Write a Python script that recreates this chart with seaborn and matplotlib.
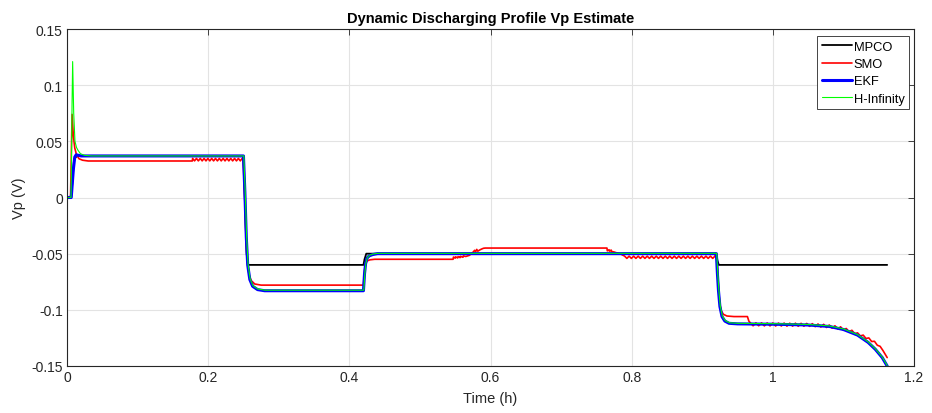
import matplotlib
matplotlib.use("Agg")
import matplotlib.pyplot as plt
import numpy as np
import pandas as pd
import seaborn as sns

# ---------------- data (time in hours, Vp in volts) ----------------
mpco_t = [0, 0.006, 0.010, 0.014, 0.250, 0.2545, 0.2565, 0.420, 0.4215, 0.424,
          0.920, 0.9215, 0.9235, 1.162]
mpco_v = [0, 0, 0.034, 0.037, 0.037, -0.050, -0.060, -0.060, -0.055, -0.050,
          -0.050, -0.056, -0.060, -0.060]

ekf_t = [0, 0.006, 0.009, 0.011, 0.013, 0.020, 0.250, 0.252, 0.254, 0.256, 0.259,
         0.263, 0.270, 0.280, 0.420, 0.4215, 0.423, 0.425, 0.428, 0.433, 0.440,
         0.920, 0.9215, 0.923, 0.925, 0.928, 0.932, 0.938, 0.950, 1.000, 1.050,
         1.080, 1.100, 1.120, 1.135, 1.145, 1.155, 1.162]
ekf_v = [0, 0, 0.025, 0.036, 0.038, 0.037, 0.037, 0.005, -0.035, -0.060, -0.073,
         -0.079, -0.082, -0.083, -0.083, -0.068, -0.059, -0.054, -0.052, -0.0508, -0.050,
         -0.050, -0.068, -0.083, -0.097, -0.106, -0.110, -0.112, -0.1125, -0.1128, -0.1135,
         -0.1148, -0.1175, -0.1225, -0.1290, -0.1350, -0.1425, -0.1500]

hinf_t = [0, 0.0057, 0.0072, 0.0080, 0.0095, 0.0113, 0.0135, 0.0156, 0.019, 0.025,
          0.035, 0.2505, 0.2525, 0.2545, 0.2565, 0.2595, 0.2635, 0.2705, 0.2805,
          0.4205, 0.4220, 0.4235, 0.4255, 0.4285, 0.4335, 0.4405,
          0.9205, 0.9220, 0.9235, 0.9255, 0.9285, 0.9325, 0.9385, 0.9505, 1.000,
          1.050, 1.080, 1.100, 1.120, 1.135, 1.145, 1.155, 1.162]
hinf_v = [0, 0, 0.085, 0.121, 0.075, 0.050, 0.0445, 0.042, 0.039, 0.0375,
          0.037, 0.037, 0.005, -0.035, -0.0595, -0.0725, -0.0785, -0.0815, -0.0825,
          -0.0825, -0.0675, -0.0585, -0.0535, -0.0515, -0.0503, -0.0497,
          -0.0497, -0.0675, -0.0825, -0.0965, -0.1055, -0.1095, -0.1115, -0.1120, -0.1123,
          -0.1130, -0.1143, -0.1170, -0.1220, -0.1285, -0.1345, -0.1420, -0.1495]

# SMO: start-up transient and first plateau
smo_a_t = [0, 0.005, 0.0072, 0.009, 0.011, 0.0135, 0.017, 0.022, 0.030, 0.1775]
smo_a_v = [0, 0, 0.074, 0.055, 0.044, 0.038, 0.0345, 0.0332, 0.0325, 0.0325]
# SMO: chattering before the first load step
smo_b_t = [0.1780, 0.1807, 0.1834, 0.1861, 0.1888, 0.1915, 0.1942, 0.1969, 0.1996,
           0.2023, 0.2050, 0.2077, 0.2104, 0.2131, 0.2158, 0.2185, 0.2212, 0.2239,
           0.2266, 0.2293, 0.2320, 0.2347, 0.2374, 0.2401, 0.2428, 0.2455, 0.2482]
smo_b_v = [0.0348, 0.0326, 0.0348, 0.0326, 0.0348, 0.0326, 0.0348, 0.0326, 0.0348,
           0.0326, 0.0348, 0.0326, 0.0348, 0.0326, 0.0348, 0.0326, 0.0348, 0.0326,
           0.0348, 0.0326, 0.0348, 0.0326, 0.0348, 0.0326, 0.0348, 0.0326, 0.0348]
# SMO: load steps at 0.25 h and 0.42 h, middle plateau
smo_c_t = [0.2495, 0.2515, 0.2535, 0.2555, 0.258, 0.261, 0.266, 0.275, 0.420,
           0.4215, 0.423, 0.425, 0.429, 0.436, 0.547,
           0.5475, 0.5500, 0.5505, 0.5535, 0.5540, 0.5570, 0.5575, 0.5610, 0.5615,
           0.5650, 0.5700, 0.5730, 0.5760, 0.5775, 0.5790, 0.5805, 0.5820, 0.5845,
           0.5870, 0.5900, 0.5925, 0.765,
           0.7655, 0.768, 0.7685, 0.771, 0.7715, 0.775, 0.780, 0.785]
smo_c_v = [0.0348, 0.005, -0.035, -0.058, -0.069, -0.074, -0.077, -0.078, -0.078,
           -0.065, -0.059, -0.0565, -0.0555, -0.055, -0.055,
           -0.0530, -0.0540, -0.0528, -0.0538, -0.0526, -0.0535, -0.0524, -0.0532, -0.0520,
           -0.0525, -0.0515, -0.0500, -0.0482, -0.0470, -0.0482, -0.0462, -0.0478, -0.0468,
           -0.0460, -0.0452, -0.0450, -0.0450,
           -0.0475, -0.0465, -0.0478, -0.0468, -0.0480, -0.0485, -0.0495, -0.0505]
# SMO: chattering before the 0.92 h step
smo_d_t = [0.7900, 0.7932, 0.7964, 0.7996, 0.8028, 0.8060, 0.8092, 0.8124, 0.8156,
           0.8188, 0.8220, 0.8252, 0.8284, 0.8316, 0.8348, 0.8380, 0.8412, 0.8444,
           0.8476, 0.8508, 0.8540, 0.8572, 0.8604, 0.8636, 0.8668, 0.8700, 0.8732,
           0.8764, 0.8796, 0.8828, 0.8860, 0.8892, 0.8924, 0.8956, 0.8988, 0.9020,
           0.9052, 0.9084, 0.9116, 0.9148, 0.9180]
smo_d_v = [-0.0522, -0.0542, -0.0522, -0.0542, -0.0522, -0.0542, -0.0522, -0.0542, -0.0522,
           -0.0542, -0.0522, -0.0542, -0.0522, -0.0542, -0.0522, -0.0542, -0.0522, -0.0542,
           -0.0522, -0.0542, -0.0522, -0.0542, -0.0522, -0.0542, -0.0522, -0.0542, -0.0522,
           -0.0542, -0.0522, -0.0542, -0.0522, -0.0542, -0.0522, -0.0542, -0.0522, -0.0542,
           -0.0522, -0.0542, -0.0522, -0.0542, -0.0522]
# SMO: 0.92 h step and short plateau
smo_e_t = [0.919, 0.9205, 0.922, 0.9235, 0.925, 0.927, 0.930, 0.935, 0.945, 0.964, 0.966]
smo_e_v = [-0.0495, -0.052, -0.068, -0.085, -0.095, -0.101, -0.104, -0.1055, -0.106, -0.106, -0.110]
# SMO: chattering through the end of discharge
smo_f_t = [0.968, 0.972, 0.976, 0.980, 0.984, 0.988, 0.992, 0.996, 1.000, 1.004,
           1.008, 1.012, 1.016, 1.020, 1.024, 1.028, 1.032, 1.036, 1.040, 1.044,
           1.048, 1.052, 1.056, 1.060, 1.064, 1.068, 1.072, 1.076, 1.080, 1.084,
           1.088, 1.092, 1.096, 1.100, 1.104, 1.108, 1.112, 1.116, 1.120, 1.124,
           1.128, 1.132, 1.136, 1.140, 1.144, 1.148, 1.152, 1.156, 1.160, 1.162]
smo_f_v = [-0.1115, -0.1142, -0.1116, -0.1142, -0.1116, -0.1143, -0.1117, -0.1143, -0.1117, -0.1144,
           -0.1118, -0.1144, -0.1118, -0.1145, -0.1119, -0.1145, -0.1119, -0.1146, -0.1120, -0.1146,
           -0.1121, -0.1147, -0.1123, -0.1150, -0.1126, -0.1153, -0.1129, -0.1157, -0.1135, -0.1163,
           -0.1142, -0.1170, -0.1151, -0.1182, -0.1166, -0.1195, -0.1182, -0.1212, -0.1205, -0.1232,
           -0.1225, -0.1255, -0.1250, -0.1282, -0.1280, -0.1315, -0.1325, -0.1362, -0.1405, -0.1425]

smo_t = smo_a_t + smo_b_t + smo_c_t + smo_d_t + smo_e_t + smo_f_t
smo_v = smo_a_v + smo_b_v + smo_c_v + smo_d_v + smo_e_v + smo_f_v

x_ticks = [0, 0.2, 0.4, 0.6, 0.8, 1.0, 1.2]
x_tick_labels = ["0", "0.2", "0.4", "0.6", "0.8", "1", "1.2"]
y_ticks = [-0.15, -0.10, -0.05, 0, 0.05, 0.10, 0.15]
y_tick_labels = ["-0.15", "-0.1", "-0.05", "0", "0.05", "0.1", "0.15"]

# ---------------- styling ----------------
sns.set_theme(style="white")
plt.rcParams["font.family"] = ["Liberation Sans", "DejaVu Sans"]
plt.rcParams["axes.unicode_minus"] = False

fig = plt.figure(figsize=(9.32, 4.14), dpi=100)
ax = fig.add_axes([67 / 932, 1 - 367 / 414, 847 / 932, 337 / 414])

series = [
    ("MPCO", mpco_t, mpco_v, "#000000", 1.3),
    ("SMO", smo_t, smo_v, "#ff0000", 1.2),
    ("EKF", ekf_t, ekf_v, "#0000ff", 2.2),
    ("H-Infinity", hinf_t, hinf_v, "#00ff00", 0.8),
]
for name, t, v, color, lw in series:
    df = pd.DataFrame({"Time (h)": t, "Vp (V)": v})
    sns.lineplot(data=df, x="Time (h)", y="Vp (V)", ax=ax, color=color, linewidth=lw,
                 label=name, sort=False, estimator=None)

ax.set_xlim(0, 1.2)
ax.set_ylim(-0.15, 0.15)
ax.set_xticks(x_ticks)
ax.set_xticklabels(x_tick_labels)
ax.set_yticks(y_ticks)
ax.set_yticklabels(y_tick_labels)

ax.grid(True, color="#e3e3e3", linewidth=0.8)
ax.set_axisbelow(True)
for sp in ax.spines.values():
    sp.set_color("#262626")
    sp.set_linewidth(0.8)
ax.tick_params(direction="in", length=4, width=0.6, color="#262626",
               top=True, right=True, labelsize=10, labelcolor="#262626", pad=3)

ax.set_title("Dynamic Discharging Profile Vp Estimate", fontsize=10.5,
             fontweight="bold", color="#000000", pad=5)
ax.set_xlabel("Time (h)", fontsize=10.5, color="#262626", labelpad=5)
ax.set_ylabel("Vp (V)", fontsize=10.5, color="#262626", labelpad=4)

leg = ax.legend(loc="upper right", bbox_to_anchor=(842 / 847, 330 / 337),
                borderaxespad=0, fontsize=9.3, frameon=True, fancybox=False,
                framealpha=1, edgecolor="#262626", handlelength=2.3,
                handletextpad=0.15, labelspacing=0.42, borderpad=0.35)
leg.get_frame().set_linewidth(0.6)
for txt in leg.get_texts():
    txt.set_color("#000000")

fig.savefig("out.png", dpi=100)
